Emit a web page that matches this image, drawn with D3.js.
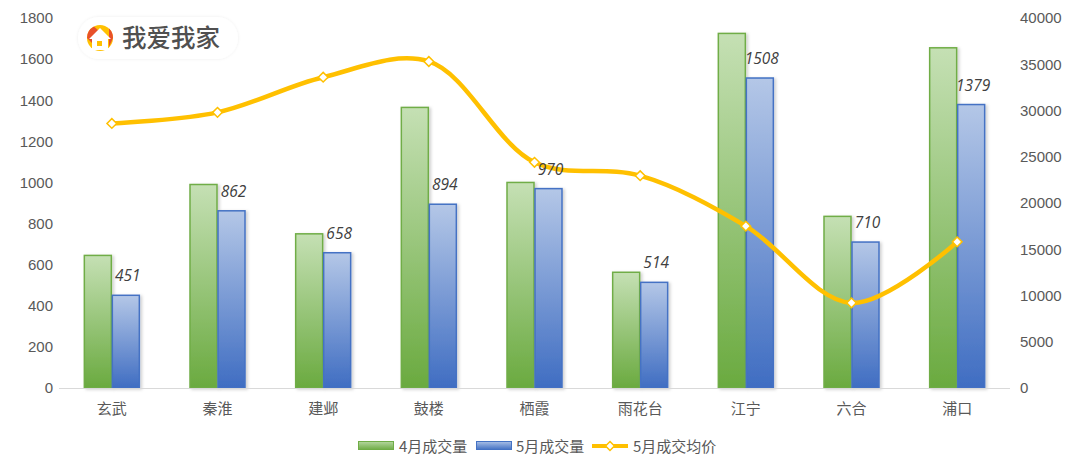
<!DOCTYPE html>
<html><head><meta charset="utf-8">
<script src="https://cdn.jsdelivr.net/npm/d3@7/dist/d3.min.js"></script>
<style>
html,body{margin:0;padding:0;background:#fff;}
svg{display:block;font-family:"Open Sans","Noto Sans CJK SC",sans-serif;}
</style></head>
<body><svg id="c" width="1080" height="473"></svg>
<script>
const categories = ["玄武","秦淮","建邺","鼓楼","栖霞","雨花台","江宁","六合","浦口"];
const aprVolume = [645, 990, 750, 1365, 1000, 563, 1725, 835, 1655];
const mayVolume = [451, 862, 658, 894, 970, 514, 1508, 710, 1379];
const mayPrice = [28600, 29800, 33600, 35300, 24400, 22950, 17500, 9200, 15800];
const leftTicks = [0,200,400,600,800,1000,1200,1400,1600,1800];
const rightTicks = [0,5000,10000,15000,20000,25000,30000,35000,40000];
const seriesNames = ["4月成交量","5月成交量","5月成交均价"];

const svg = d3.select("#c");
const defs = svg.append("defs");
function grad(id, top, bottom){
  const g = defs.append("linearGradient").attr("id",id).attr("x1",0).attr("y1",0).attr("x2",0).attr("y2",1);
  g.append("stop").attr("offset","0%").attr("stop-color",top);
  g.append("stop").attr("offset","100%").attr("stop-color",bottom);
}
grad("gGreen","#C5E0B4","#6AAA3F");
grad("gBlue","#B4C7E7","#3F6DC2");
grad("lgGreen","#B5D7A0","#70AD47");
grad("lgBlue","#A9BFE6","#4472C4");
const f = defs.append("filter").attr("id","sh").attr("x","-20%").attr("y","-5%").attr("width","150%").attr("height","115%");
f.append("feDropShadow").attr("dx",2).attr("dy",1).attr("stdDeviation",1.5).attr("flood-color","#000").attr("flood-opacity",0.18);
const f2 = defs.append("filter").attr("id","pill").attr("x","-10%").attr("y","-30%").attr("width","120%").attr("height","160%");
f2.append("feDropShadow").attr("dx",0).attr("dy",0).attr("stdDeviation",1.5).attr("flood-color","#000").attr("flood-opacity",0.08);

const x0 = 59, x1 = 1010, yBase = 388, yTop = 18;
const x = d3.scaleBand().domain(categories).range([x0,x1]).paddingInner(0).paddingOuter(0);
const inner = d3.scaleBand().domain([0,1]).range([0,56]);
const yL = d3.scaleLinear().domain([0,1800]).range([yBase,yTop]);
const yR = d3.scaleLinear().domain([0,40000]).range([yBase,yTop]);

// axes
const axL = svg.append("g").attr("transform",`translate(${x0},0)`)
  .call(d3.axisLeft(yL).tickValues(leftTicks).tickSize(0).tickPadding(6).tickFormat(d3.format("d")));
axL.select(".domain").remove();
axL.selectAll("text").attr("fill","#595959").attr("font-size",15).attr("x",-6);
const axR = svg.append("g").attr("transform",`translate(${x1},0)`)
  .call(d3.axisRight(yR).tickValues(rightTicks).tickSize(0).tickPadding(10).tickFormat(d3.format("d")));
axR.select(".domain").remove();
axR.selectAll("text").attr("fill","#595959").attr("font-size",15);

// bars
const groups = svg.append("g").selectAll("g").data(categories).join("g")
  .attr("transform",d=>`translate(${x(d)+x.bandwidth()/2-28},0)`);
groups.append("rect")
  .attr("x",inner(0)+0.5).attr("width",inner.bandwidth()-1)
  .attr("y",(d,i)=>yL(aprVolume[i])).attr("height",(d,i)=>yBase-yL(aprVolume[i]))
  .attr("fill","url(#gGreen)").attr("stroke","#70AD47").attr("stroke-width",1.5).attr("filter","url(#sh)");
groups.append("rect")
  .attr("x",inner(1)+0.5).attr("width",inner.bandwidth()-1)
  .attr("y",(d,i)=>yL(mayVolume[i])).attr("height",(d,i)=>yBase-yL(mayVolume[i]))
  .attr("fill","url(#gBlue)").attr("stroke","#4472C4").attr("stroke-width",1.5).attr("filter","url(#sh)");

// axis baseline
svg.append("line").attr("x1",x0).attr("x2",x1).attr("y1",yBase+0.5).attr("y2",yBase+0.5)
  .attr("stroke","#D9D9D9").attr("stroke-width",1);

// category labels
svg.append("g").selectAll("text").data(categories).join("text")
  .attr("x",d=>x(d)+x.bandwidth()/2).attr("y",414)
  .attr("text-anchor","middle").attr("fill","#595959").attr("font-size",15)
  .attr("font-family","'Noto Sans CJK SC',sans-serif").text(d=>d);

// line
const pts = categories.map((c,i)=>[x(c)+x.bandwidth()/2, yR(mayPrice[i])]);
svg.append("path").attr("d",d3.line().curve(d3.curveCatmullRom.alpha(0.5))(pts))
  .attr("fill","none").attr("stroke","#FFC000").attr("stroke-width",4.5).attr("stroke-linecap","round");
svg.append("g").selectAll("path").data(pts).join("path")
  .attr("transform",d=>`translate(${d[0]},${d[1]})`)
  .attr("d",d3.symbol(d3.symbolDiamond2, 60)())
  .attr("fill","#fff").attr("stroke","#FFC000").attr("stroke-width",1.5);

// data labels (drawn above line)
svg.append("g").selectAll("text").data(categories).join("text")
  .attr("x",d=>x(d)+x.bandwidth()/2-28+inner(1)+inner.bandwidth()/2+2)
  .attr("y",(d,i)=>yL(mayVolume[i])-14)
  .attr("text-anchor","middle").attr("font-style","italic").attr("font-size",15.5)
  .attr("fill","#404040").text((d,i)=>mayVolume[i]);

// logo
const logo = svg.append("g");
logo.append("rect").attr("x",78).attr("y",17).attr("width",160).attr("height",42).attr("rx",21)
  .attr("fill","#fff").attr("filter","url(#pill)");
const lg = logo.append("g").attr("transform","translate(100,38)");
lg.append("circle").attr("r",13).attr("fill","#FFC000");
lg.append("path").attr("d","M-13,0 A13,13 0 0 1 -6,-11.5 L2,-4 L-8,5 Z").attr("fill","#E8502A");
lg.append("path").attr("d","M9,-9.5 A13,13 0 0 1 13,0 L9,9 L9,-1 Z").attr("fill","#E8502A");
lg.append("path").attr("d","M0,-10 L11,1 L8,1 L8,12 L-8,12 L-8,1 L-11,1 Z").attr("fill","#fff");
lg.append("rect").attr("x",-3).attr("y",3).attr("width",5).attr("height",5).attr("fill","#FFC000");
logo.append("text").attr("x",122).attr("y",47).attr("font-size",24.5).attr("font-weight",500)
  .attr("fill","#505050").attr("font-family","'Noto Sans CJK SC',sans-serif").text("我爱我家");

// legend
const leg = svg.append("g").attr("transform","translate(0,446)");
leg.append("rect").attr("x",358.5).attr("y",-4.5).attr("width",35).attr("height",8)
  .attr("fill","url(#lgGreen)").attr("stroke","#70AD47");
leg.append("text").attr("x",399).attr("y",6).attr("font-size",15).attr("fill","#595959").text(seriesNames[0]);
leg.append("rect").attr("x",476.5).attr("y",-4.5).attr("width",35).attr("height",8)
  .attr("fill","url(#lgBlue)").attr("stroke","#4472C4");
leg.append("text").attr("x",516).attr("y",6).attr("font-size",15).attr("fill","#595959").text(seriesNames[1]);
leg.append("line").attr("x1",592).attr("x2",628).attr("y1",0).attr("y2",0).attr("stroke","#FFC000").attr("stroke-width",4);
leg.append("path").attr("transform","translate(610,0)").attr("d",d3.symbol(d3.symbolDiamond2,50)())
  .attr("fill","#fff").attr("stroke","#FFC000").attr("stroke-width",1.5);
leg.append("text").attr("x",633).attr("y",6).attr("font-size",15).attr("fill","#595959").text(seriesNames[2]);
leg.selectAll("text").attr("font-family","'Noto Sans CJK SC','Open Sans',sans-serif");
</script></body></html>
